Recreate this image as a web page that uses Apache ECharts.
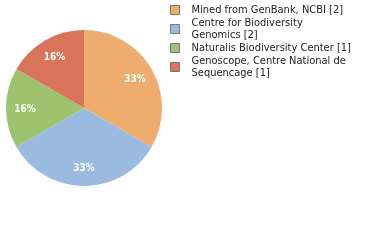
<!DOCTYPE html>
<html>
<head>
<meta charset="utf-8">
<script src="https://cdn.jsdelivr.net/npm/echarts@6/dist/echarts.min.js"></script>
<style>
  html, body { margin: 0; padding: 0; background: #fff; }
  #chart { width: 380px; height: 240px; }
</style>
</head>
<body>
<div id="chart"></div>
<script>
/* 数据 */
var names = ['Mined from GenBank, NCBI [2]', 'Centre for Biodiversity Genomics [2]', 'Naturalis Biodiversity Center [1]', 'Genoscope, Centre National de Sequencage [1]'];
var legendLabels = ['Mined from GenBank, NCBI [2]', 'Centre for Biodiversity\nGenomics [2]', 'Naturalis Biodiversity Center [1]', 'Genoscope, Centre National de\nSequencage [1]'];
var counts = [2, 2, 1, 1];
var colors = ['#eeac6f', '#9bbadf', '#9dc36f', '#d9745a'];

var font = 'DejaVu Sans Condensed';
var pieData = names.map(function (n, i) {
  return { name: n, value: counts[i], itemStyle: { color: colors[i] } };
});

var myChart = echarts.init(document.getElementById('chart'));
var option = {
  animation: false,
  legend: {
    orient: 'vertical',
    left: 165,
    top: -1,
    itemWidth: 9,
    itemHeight: 9,
    itemGap: 1,
    icon: 'rect',
    itemStyle: { borderColor: '#777', borderWidth: 1 },
    textStyle: { fontFamily: font, fontSize: 11, color: '#222', lineHeight: 12, padding: [0, 0, 0, 7] },
    formatter: function (name) { return legendLabels[names.indexOf(name)]; },
    data: names
  },
  series: [
    {
      type: 'pie',
      center: [84, 108],
      radius: [0, 78],
      startAngle: 90,
      silent: true,
      label: { show: false },
      labelLine: { show: false },
      data: pieData
    },
    {
      // 只用来放百分比标签
      type: 'pie',
      center: [84, 109],
      radius: [34, 78],
      startAngle: 90,
      silent: true,
      itemStyle: { color: 'transparent' },
      label: {
        show: true,
        position: 'inside',
        color: '#fff',
        fontFamily: font,
        fontSize: 10,
        fontWeight: 'bold',
        formatter: function (p) { return Math.floor(p.percent) + '%'; }
      },
      labelLine: { show: false },
      data: names.map(function (n, i) { return { name: n, value: counts[i], itemStyle: { color: 'transparent' } }; })
    }
  ]
};
myChart.setOption(option);
</script>
</body>
</html>
